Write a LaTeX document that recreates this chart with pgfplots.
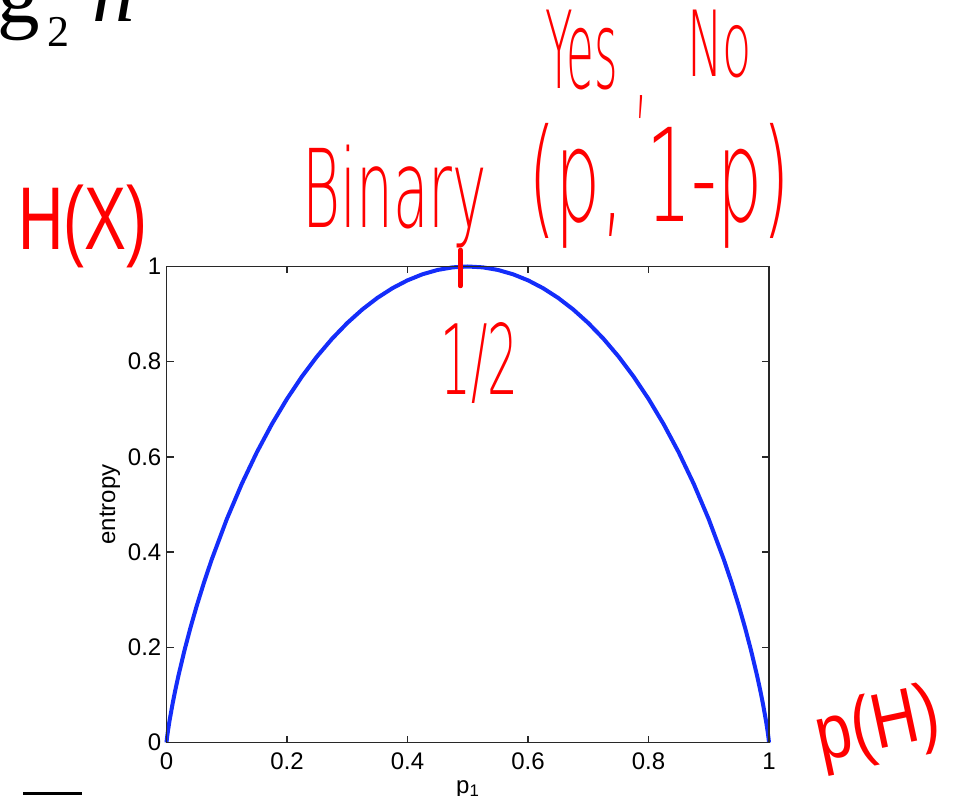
\documentclass[border=0pt]{standalone}
\usepackage{pgfplots}
\pgfplotsset{compat=1.18}
\usepackage{pgfplotstable}
\usepackage{graphicx}
\usepackage{fontspec}
\setmainfont{Liberation Sans}
\newfontfamily\serifface{Liberation Serif}
\newfontfamily\handthin{DejaVuSans-ExtraLight.ttf}
\definecolor{curveblue}{RGB}{20,45,250}
\definecolor{axisgray}{RGB}{40,40,40}
\definecolor{pen}{RGB}{255,0,0}

% binary entropy H(p) = -p log2 p - (1-p) log2 (1-p)
\pgfplotstableread{
p H
0 0
0.001 0.01141
0.0025 0.02521
0.005 0.04542
0.01 0.08079
0.0125 0.09694
0.015 0.11236
0.02 0.14144
0.03 0.19439
0.04 0.24229
0.05 0.28640
0.0625 0.33729
0.075 0.38431
0.1 0.46900
0.125 0.54356
0.15 0.60984
0.175 0.66902
0.2 0.72193
0.225 0.76919
0.25 0.81128
0.275 0.84855
0.3 0.88129
0.325 0.90974
0.35 0.93407
0.375 0.95443
0.4 0.97095
0.425 0.98371
0.45 0.99277
0.475 0.99820
0.5 1
0.525 0.99820
0.55 0.99277
0.575 0.98371
0.6 0.97095
0.625 0.95443
0.65 0.93407
0.675 0.90974
0.7 0.88129
0.725 0.84855
0.75 0.81128
0.775 0.76919
0.8 0.72193
0.825 0.66902
0.85 0.60984
0.875 0.54356
0.9 0.46900
0.925 0.38431
0.9375 0.33729
0.95 0.28640
0.96 0.24229
0.97 0.19439
0.98 0.14144
0.985 0.11236
0.9875 0.09694
0.99 0.08079
0.995 0.04542
0.9975 0.02521
0.999 0.01141
1 0
}\entropytable

\begin{document}
\begin{tikzpicture}[x=1pt,y=1pt]
\path[use as bounding box] (0,0) rectangle (957,795);

% slide text above the plot
\node[anchor=base west, inner sep=0pt] at (-3,772)
  {\serifface\fontsize{85}{85}\selectfont g};
\node[anchor=base west, inner sep=0pt] at (47,748)
  {\serifface\fontsize{44}{44}\selectfont 2};
\node[anchor=base west, inner sep=0pt] at (92,773)
  {\serifface\itshape\fontsize{85}{85}\selectfont h};
\fill[black] (23,0) rectangle (82,3.5);

\begin{axis}[
  at={(166.5pt,52.5pt)}, anchor=south west,
  scale only axis, width=602.5pt, height=476pt,
  xmin=0, xmax=1, ymin=0, ymax=1,
  xtick={0,0.2,0.4,0.6,0.8,1},
  ytick={0,0.2,0.4,0.6,0.8,1},
  tick align=inside, major tick length=7pt,
  axis on top, clip=false,
  axis line style={axisgray, line width=1.8pt},
  every tick/.style={axisgray, line width=1.6pt},
  /pgf/number format/assume math mode=true,
  ticklabel style={font=\fontsize{24}{24}\selectfont, text=black},
  yticklabel style={inner sep=0pt, xshift=-5pt},
  xticklabel style={inner sep=0pt, yshift=-10pt},
  label style={font=\fontsize{24}{24}\selectfont},
  xlabel={p\textsubscript{1}},
  ylabel={entropy},
  xlabel style={at={(axis description cs:0.5,-0.0788)}, anchor=north, inner sep=0pt},
  ylabel style={at={(axis description cs:-0.094,0.5)}, anchor=center, inner sep=0pt},
]
\addplot[curveblue, line width=4pt, line join=round] table[x=p, y=H] {\entropytable};
\end{axis}

% pen notes
\draw[pen, line width=4.5pt, line cap=round] (460.5,545) -- (460.5,509);
\node[anchor=north west, inner sep=0pt, text=pen] at (18,610)
  {\resizebox*{129pt}{83pt}{\fontsize{100}{100}\selectfont H(X)}};
\node[anchor=north west, inner sep=0pt, text=pen] at (545,785)
  {\resizebox*{73pt}{80pt}{\handthin\fontsize{100}{100}\selectfont Yes}};
\node[anchor=north west, inner sep=0pt, text=pen] at (634,700)
  {\resizebox*{14pt}{23pt}{\handthin\fontsize{100}{100}\selectfont ,}};
\node[anchor=north west, inner sep=0pt, text=pen] at (687,785)
  {\resizebox*{65pt}{68pt}{\handthin\fontsize{100}{100}\selectfont No}};
\node[anchor=north west, inner sep=0pt, text=pen] at (302,650)
  {\resizebox*{185pt}{103pt}{\handthin\fontsize{100}{100}\selectfont Binary}};
\node[anchor=north west, inner sep=0pt, text=pen] at (528,672)
  {\resizebox*{262pt}{125pt}{\handthin\fontsize{100}{100}\selectfont (p, 1-p)}};
\node[anchor=north west, inner sep=0pt, text=pen] at (440,473)
  {\resizebox*{78pt}{81pt}{\handthin\fontsize{100}{100}\selectfont 1/2}};
\node[anchor=center, inner sep=0pt, text=pen, rotate=12] at (878.5,66.5)
  {\resizebox*{124.6pt}{72.7pt}{\fontsize{100}{100}\selectfont p(H)}};
\end{tikzpicture}
\end{document}
